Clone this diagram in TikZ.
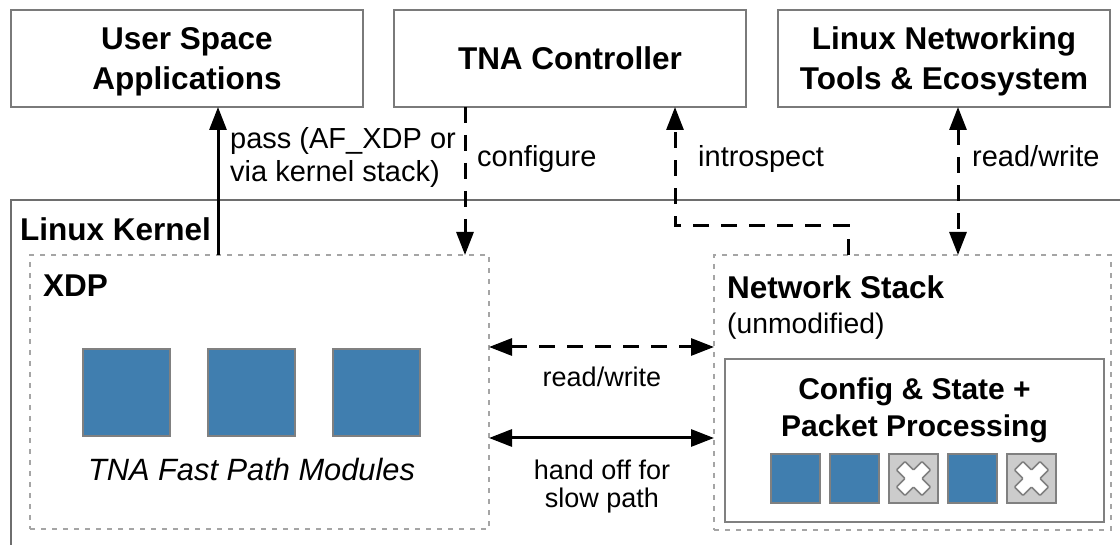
\documentclass[tikz,border=0pt]{standalone}
\usepackage{fontspec}
\setmainfont{Liberation Sans}
\usetikzlibrary{arrows.meta}
\definecolor{modblue}{RGB}{64,126,175}
\definecolor{boxgray}{RGB}{122,122,122}
\definecolor{dotgray}{RGB}{165,165,165}
\definecolor{sqgray}{RGB}{128,128,128}
\definecolor{xfill}{RGB}{204,204,204}
\definecolor{kgray}{RGB}{110,110,110}
\begin{document}
\begin{tikzpicture}[x=1pt,y=-1pt,
  >={Triangle[length=23pt,width=17pt]},
  boxbase/.style={inner sep=0pt, outer sep=0pt},
  topbox/.style={boxbase, draw=boxgray, line width=2.5pt, minimum height=97pt},
  dotbox/.style={boxbase, draw=dotgray, line width=2pt, dash pattern=on 5pt off 6pt},
  cfgbox/.style={boxbase, draw=sqgray, line width=2.5pt},
  bigsq/.style={boxbase, draw=sqgray, line width=2pt, fill=modblue, minimum width=87pt, minimum height=87pt},
  smsq/.style={boxbase, draw=sqgray, line width=2pt, fill=modblue, minimum width=49pt, minimum height=49pt},
  smx/.style={smsq, fill=xfill},
  boldlbl/.style={inner sep=0pt, anchor=base, font=\fontsize{31.5}{38}\selectfont\bfseries},
  cfglbl/.style={inner sep=0pt, anchor=base, font=\fontsize{30}{36}\selectfont\bfseries},
  toplbl/.style={inner sep=0pt, anchor=base west, font=\fontsize{29}{33}\selectfont},
  midlbl/.style={inner sep=0pt, anchor=base, font=\fontsize{27}{29}\selectfont},
  solidarrow/.style={->, line width=3pt, black},
  solidboth/.style={<->, line width=3pt, black},
  dasharrow/.style={->, line width=3pt, black, dash pattern=on 16pt off 12pt},
  dashboth/.style={<->, line width=3pt, black, dash pattern=on 16pt off 12pt},
  xmark/.pic={\draw[draw=sqgray, fill=white, line width=1.5pt, rounded corners=1pt, rotate=45]
     (-6,-18) -- (6,-18) -- (6,-6) -- (18,-6) -- (18,6) -- (6,6) -- (6,18) -- (-6,18)
     -- (-6,6) -- (-18,6) -- (-18,-6) -- (-6,-6) -- cycle;}
]
\useasboundingbox (0,0) rectangle (1120,545);

% Linux kernel container (partly shown)
\draw[kgray, line width=2.5pt] (11,546) -- (11,200) -- (1121,200);
\node[boldlbl, anchor=base west] (kern) at (20,241) {Linux Kernel};

% top boxes
\node[topbox, minimum width=352pt] (usr) at (187,58.5) {};
\node[boldlbl] (usr1) at (187,50) {User Space};
\node[boldlbl] (usr2) at (187,90) {Applications};

\node[topbox, minimum width=352pt] (tna) at (570,58.5) {};
\node[boldlbl] (tna1) at (570,70) {TNA Controller};

\node[topbox, minimum width=332pt] (lnx) at (944,58.5) {};
\node[boldlbl] (lnx1) at (944,50) {Linux Networking};
\node[boldlbl] (lnx2) at (944,90) {Tools \& Ecosystem};

% XDP
\node[dotbox, minimum width=459pt, minimum height=274pt] (xdp) at (259.5,392) {};
\node[boldlbl, anchor=base west] (xdpl) at (43,297) {XDP};
\node[bigsq] (m1) at (126.5,392.5) {};
\node[bigsq] (m2) at (251.5,392.5) {};
\node[bigsq] (m3) at (376.5,392.5) {};
\node[inner sep=0pt, anchor=base, font=\fontsize{30.8}{36}\selectfont\itshape] (fpm) at (251.5,480) {TNA Fast Path Modules};

% Network stack
\node[dotbox, minimum width=397pt, minimum height=275pt] (net) at (912.5,392.5) {};
\node[boldlbl, anchor=base west] (netl) at (727,299) {Network Stack};
\node[inner sep=0pt, anchor=base west, font=\fontsize{28.3}{33}\selectfont] (unm) at (727,334) {(unmodified)};

\node[cfgbox, minimum width=379pt, minimum height=163pt] (cfg) at (914.5,440.5) {};
\node[cfglbl] (cfg1) at (914.5,400) {Config \& State +};
\node[cfglbl] (cfg2) at (914.5,437) {Packet Processing};
\node[smsq] (s1) at (795.5,478.5) {};
\node[smsq] (s2) at (854.5,478.5) {};
\node[smx] (s3) at (913.5,478.5) {};
\node[smsq] (s4) at (972.5,478.5) {};
\node[smx] (s5) at (1031.5,478.5) {};
\pic at (s3.center) {xmark};
\pic at (s5.center) {xmark};

% connector positions
\coordinate (px) at (218,0);
\coordinate (cx) at (465,0);
\coordinate (ix) at (675,0);
\coordinate (ix2) at (848,0);
\coordinate (rx) at (958,0);
\coordinate (my1) at (0,347);
\coordinate (my2) at (0,438);

% connectors
\draw[solidarrow] (xdp.north -| px) -- (usr.south -| px);
\node[toplbl] (pass1) at (230,149) {pass (AF\_XDP or};
\node[toplbl] (pass2) at (230,182) {via kernel stack)};

\draw[dasharrow] (tna.south -| cx) -- (xdp.north -| cx);
\node[toplbl] (conf) at (477,167) {configure};

\draw[dasharrow] (net.north -| ix2) -- ++(0,-29) -| (tna.south -| ix);
\node[toplbl] (intro) at (698,167) {introspect};

\draw[dashboth] (lnx.south -| rx) -- (net.north -| rx);
\node[toplbl] (rw1) at (972,167) {read/write};

\draw[dashboth] (xdp.east |- my1) -- (net.west |- my1);
\node[midlbl] (rw2) at (602,387) {read/write};

\draw[solidboth] (xdp.east |- my2) -- (net.west |- my2);
\node[midlbl] (ho1) at (602,479) {hand off for};
\node[midlbl] (ho2) at (602,507) {slow path};
\end{tikzpicture}
\end{document}
